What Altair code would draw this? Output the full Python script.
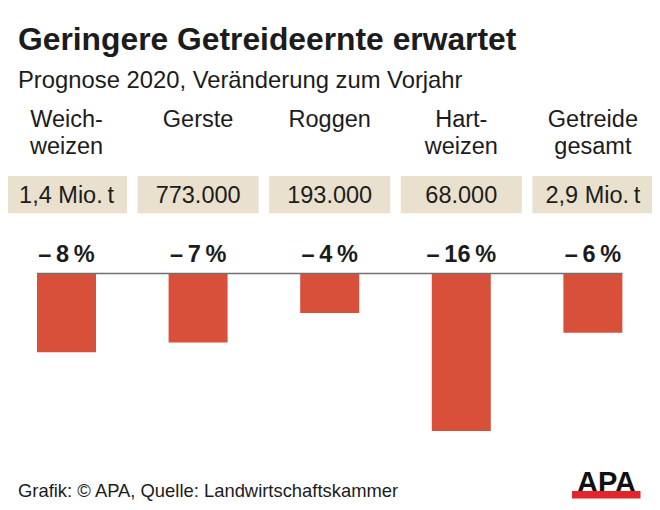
import altair as alt
import pandas as pd

# ---- data ----
categories = ["Weichweizen", "Gerste", "Roggen", "Hartweizen", "Getreide gesamt"]
header_line1 = ["Weich-", "Gerste", "Roggen", "Hart-", "Getreide"]
header_line2 = ["weizen", "", "", "weizen", "gesamt"]
amounts = ["1,4 Mio.\u2009t", "773.000", "193.000", "68.000", "2,9 Mio.\u2009t"]
changes = [-8, -7, -4, -16, -6]

title = "Geringere Getreideernte erwartet"
subtitle = "Prognose 2020, Veränderung zum Vorjahr"
footer = "Grafik: © APA, Quelle: Landwirtschaftskammer"

FONT = "Liberation Sans"
INK = "#1c1c1c"
BAR = "#d9503a"
TAN = "#e9e0cd"

df = pd.DataFrame({
    "cat": categories,
    "h1": header_line1,
    "h2": header_line2,
    "amount": amounts,
    "change": changes,
    "label": ["\u2013\u2009" + str(abs(v)) + "\u2009%" for v in changes],
})

xs = alt.X("cat:N", sort=categories, axis=None,
           scale=alt.Scale(domain=categories, range=[-7.3, 650.7],
                           paddingInner=0.5517, paddingOuter=0.276))
ys = alt.Y("change:Q", axis=None,
           scale=alt.Scale(domain=[-16, 0], range=[423, 265.6], nice=False, zero=True))

base = alt.Chart(df)

boxes = base.mark_bar(width=121, color=TAN).encode(
    x=xs, y=alt.value(168), y2=alt.value(205.3))

def col_text(field, ypos, size, weight="normal"):
    return base.mark_text(font=FONT, fontSize=size, fontWeight=weight, color=INK,
                          align="center", baseline="alphabetic").encode(
        x=xs, y=alt.value(ypos), text=f"{field}:N")

h1 = col_text("h1", 119, 23.5)
h2 = col_text("h2", 146, 23.5)
amt = col_text("amount", 195.3, 23.5)
pct = col_text("label", 253.7, 23.5, "bold")

bars = base.mark_bar(color=BAR, width=59).encode(x=xs, y=ys)

rule = alt.Chart(pd.DataFrame({"z": [0]})).mark_rule(color="#707070", strokeWidth=1.5).encode(
    y=alt.Y("z:Q", axis=None, scale=alt.Scale(domain=[-16, 0], range=[423, 265.6], nice=False)),
    x=alt.value(29), x2=alt.value(614.5))

def free_text(txt, x, y, size, weight="normal", align="left", color=INK):
    return alt.Chart(pd.DataFrame({"t": [txt]})).mark_text(
        font=FONT, fontSize=size, fontWeight=weight, color=color,
        align=align, baseline="alphabetic").encode(
        x=alt.value(x), y=alt.value(y), text="t:N")

t_title = free_text(title, 10, 42, 31.8, "bold")
t_sub = free_text(subtitle, 10, 80, 23.8)
t_foot = free_text(footer, 10, 489, 18.4)
t_logo = free_text("APA", 598.5, 484, 29, "bold", "center", "#111111")
logo_bar = alt.Chart(pd.DataFrame({"t": [1]})).mark_rect(color="#e0262b").encode(
    x=alt.value(564), x2=alt.value(632.5), y=alt.value(483), y2=alt.value(490.5))

chart = alt.layer(
    boxes, h1, h2, amt, bars, rule, pct, t_title, t_sub, t_foot, t_logo, logo_bar
).properties(
    width=644, height=494, autosize=alt.AutoSizeParams(type="none"), padding=0,
    background="white"
).configure_view(stroke=None)

chart.save("out.html", embed_options={"renderer": "svg", "actions": False})
